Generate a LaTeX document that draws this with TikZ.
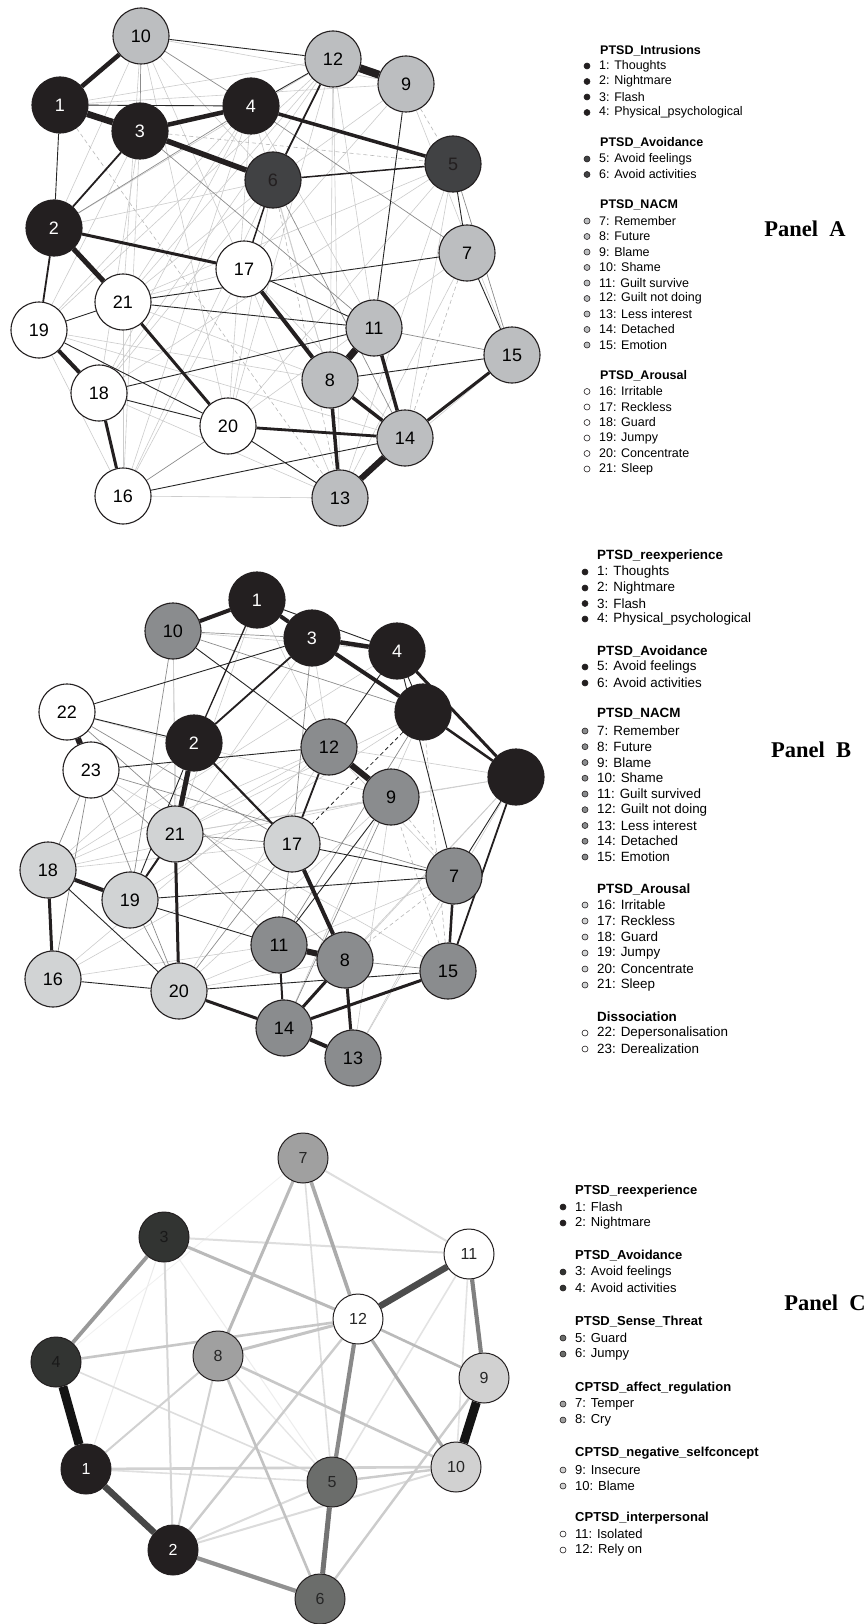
\documentclass[tikz,border=0pt]{standalone}
\usepackage{fontspec}
\setmainfont{Liberation Sans}
\newfontfamily\panelfont{Liberation Serif}
\pgfdeclarelayer{bg}
\pgfsetlayers{bg,main}
\definecolor{nblack}{HTML}{231F20}
\definecolor{ndark}{HTML}{414244}
\definecolor{nlgA}{HTML}{BCBEC0}
\definecolor{ngB}{HTML}{8A8C8E}
\definecolor{nlB}{HTML}{D1D3D4}
\definecolor{cdk}{HTML}{323432}
\definecolor{cmd}{HTML}{6B6D6B}
\definecolor{cgr}{HTML}{A0A0A0}
\definecolor{clt}{HTML}{D1D1D1}
\newcommand\edg[3]{\draw[#1] (#2) -- (#3);}
\newcommand\lgitem[6]{\node[bul, fill=#4] (#1b) at (#2-12,#3) {}; \node[lgtx, font=\fontsize{#6}{#6}\selectfont] (#1) at (#2,#3) {#5};}
\newcommand\lghead[5]{\node[lgtx, font=\fontsize{#5}{#5}\selectfont\bfseries] (#1) at (#2,#3) {#4};}
\begin{document}
\begin{tikzpicture}[x=1pt,y=-1pt,
  nd/.style={circle, draw=nblack, line width=1.1pt, minimum size=56pt, inner sep=0pt, font=\fontsize{18}{18}\selectfont},
  ndc/.style={circle, draw=nblack, line width=1pt, minimum size=50pt, inner sep=0pt, font=\fontsize{16}{16}\selectfont},
  lgtx/.style={anchor=west, inner sep=0pt},
  bul/.style={circle, draw=nblack, line width=0.6pt, minimum size=6pt, inner sep=0pt},
  pl/.style={font=\fontsize{22.5}{22.5}\selectfont\panelfont\bfseries, inner sep=0pt},
  eL/.style={draw=black!20, line width=0.6pt},
  eM/.style={draw=black!45, line width=0.7pt},
  eD/.style={draw=black!85, line width=0.9pt},
  eDL/.style={draw=black!28, dash pattern=on 4pt off 3pt, line width=0.6pt},
  eDD/.style={draw=black!85, dash pattern=on 4pt off 3pt, line width=0.8pt},
  eT/.style={draw=nblack, line width=#1},
  eC/.style 2 args={draw=#1, line width=#2}
]
\useasboundingbox (0,0) rectangle (867,1624);

% ---------------- Panel A nodes
\node[nd, fill=nblack, text=white] (a1) at (60,105) {1};
\node[nd, fill=nblack, text=white] (a2) at (54,228) {2};
\node[nd, fill=nblack, text=white] (a3) at (140,131) {3};
\node[nd, fill=nblack, text=white] (a4) at (251,106) {4};
\node[nd, fill=ndark, text=nblack] (a5) at (453,164) {5};
\node[nd, fill=ndark, text=nblack] (a6) at (273,180) {6};
\node[nd, fill=nlgA] (a7) at (467,253) {7};
\node[nd, fill=nlgA] (a8) at (330,380) {8};
\node[nd, fill=nlgA] (a9) at (406,84) {9};
\node[nd, fill=nlgA] (a10) at (141,36) {10};
\node[nd, fill=nlgA] (a11) at (374,328) {11};
\node[nd, fill=nlgA] (a12) at (333,59) {12};
\node[nd, fill=nlgA] (a13) at (340,498) {13};
\node[nd, fill=nlgA] (a14) at (405,438) {14};
\node[nd, fill=nlgA] (a15) at (512,355) {15};
\node[nd, fill=white] (a16) at (123,496) {16};
\node[nd, fill=white] (a17) at (244,269) {17};
\node[nd, fill=white] (a18) at (99,393) {18};
\node[nd, fill=white] (a19) at (39,330) {19};
\node[nd, fill=white] (a20) at (228,426) {20};
\node[nd, fill=white] (a21) at (123,302) {21};

% ---------------- Panel B nodes
\node[nd, fill=nblack, text=white] (b1) at (257,600) {1};
\node[nd, fill=nblack, text=white] (b2) at (194,743) {2};
\node[nd, fill=nblack, text=white] (b3) at (312,638) {3};
\node[nd, fill=nblack, text=white] (b4) at (397,651) {4};
\node[nd, fill=nblack] (b5) at (423,712) {};
\node[nd, fill=nblack] (b6) at (516,777) {};
\node[nd, fill=ngB] (b7) at (454,876) {7};
\node[nd, fill=ngB] (b8) at (345,960) {8};
\node[nd, fill=ngB] (b9) at (391,797) {9};
\node[nd, fill=ngB] (b10) at (173,631) {10};
\node[nd, fill=ngB] (b11) at (279,945) {11};
\node[nd, fill=ngB] (b12) at (329,747) {12};
\node[nd, fill=ngB] (b13) at (353,1058) {13};
\node[nd, fill=ngB] (b14) at (284,1028) {14};
\node[nd, fill=ngB] (b15) at (448,971) {15};
\node[nd, fill=nlB] (b16) at (53,979) {16};
\node[nd, fill=nlB] (b17) at (292,844) {17};
\node[nd, fill=nlB] (b18) at (48,870) {18};
\node[nd, fill=nlB] (b19) at (130,900) {19};
\node[nd, fill=nlB] (b20) at (179,991) {20};
\node[nd, fill=nlB] (b21) at (175,834) {21};
\node[nd, fill=white] (b22) at (67,712) {22};
\node[nd, fill=white] (b23) at (91,770) {23};

% ---------------- Panel C nodes
\node[ndc, fill=nblack, text=white] (c1) at (86,1469) {1};
\node[ndc, fill=nblack, text=white] (c2) at (173,1550) {2};
\node[ndc, fill=cdk, text=black!90] (c3) at (164,1237) {3};
\node[ndc, fill=cdk, text=black!90] (c4) at (56,1362) {4};
\node[ndc, fill=cmd, text=black!85] (c5) at (332,1482) {5};
\node[ndc, fill=cmd, text=black!85] (c6) at (320,1599) {6};
\node[ndc, fill=cgr, text=black!85] (c7) at (303,1158) {7};
\node[ndc, fill=cgr, text=black!85] (c8) at (218,1356) {8};
\node[ndc, fill=clt, text=black!85] (c9) at (484,1378) {9};
\node[ndc, fill=clt, text=black!85] (c10) at (456,1467) {10};
\node[ndc, fill=white, text=black!85] (c11) at (469,1254) {11};
\node[ndc, fill=white, text=black!85] (c12) at (358,1319) {12};

\begin{pgfonlayer}{bg}
\fill[white] (0,0) rectangle (867,1624);
% ---- Panel A light edges
\edg{eL}{a10}{a21}\edg{eL}{a10}{a6}\edg{eL}{a10}{a17}\edg{eL}{a10}{a9}\edg{eL}{a10}{a2}\edg{eL}{a10}{a20}
\edg{eL}{a1}{a12}\edg{eL}{a1}{a9}\edg{eL}{a2}{a6}\edg{eL}{a2}{a12}
\edg{eL}{a19}{a4}\edg{eL}{a19}{a12}\edg{eL}{a21}{a4}\edg{eL}{a21}{a12}\edg{eL}{a21}{a6}
\edg{eL}{a18}{a4}\edg{eL}{a18}{a12}\edg{eL}{a18}{a6}\edg{eL}{a16}{a4}\edg{eL}{a16}{a6}
\edg{eL}{a16}{a17}\edg{eL}{a16}{a3}\edg{eL}{a18}{a3}\edg{eL}{a19}{a3}
\edg{eL}{a20}{a6}\edg{eL}{a20}{a12}\edg{eL}{a20}{a4}
\edg{eL}{a9}{a15}\edg{eL}{a9}{a17}\edg{eL}{a9}{a6}\edg{eL}{a5}{a21}\edg{eL}{a5}{a18}
\edg{eL}{a5}{a20}\edg{eL}{a5}{a13}\edg{eL}{a5}{a14}\edg{eL}{a7}{a13}\edg{eL}{a7}{a20}
\edg{eL}{a15}{a13}\edg{eL}{a6}{a8}\edg{eL}{a4}{a8}\edg{eL}{a4}{a11}\edg{eL}{a12}{a8}
\edg{eL}{a12}{a13}\edg{eL}{a12}{a11}\edg{eL}{a17}{a14}\edg{eL}{a17}{a13}\edg{eL}{a18}{a13}
\edg{eL}{a19}{a14}\edg{eL}{a19}{a8}\edg{eL}{a21}{a8}\edg{eL}{a21}{a17}\edg{eL}{a21}{a16}
\edg{eL}{a19}{a16}\edg{eL}{a16}{a13}
\edg{eDL}{a1}{a13}\edg{eDL}{a3}{a5}\edg{eDL}{a9}{a5}\edg{eDL}{a7}{a14}\edg{eDL}{a6}{a13}\edg{eDL}{a6}{a17}
% ---- Panel A mid/dark edges
\edg{eM}{a10}{a4}\edg{eM}{a10}{a3}\edg{eM}{a4}{a7}\edg{eM}{a5}{a15}\edg{eM}{a11}{a15}
\edg{eM}{a16}{a20}\edg{eM}{a6}{a14}\edg{eM}{a2}{a4}\edg{eM}{a3}{a11}
\edg{eD}{a1}{a2}\edg{eD}{a1}{a4}\edg{eD}{a10}{a12}\edg{eD}{a12}{a4}\edg{eD}{a9}{a11}
\edg{eD}{a5}{a7}\edg{eD}{a7}{a15}\edg{eD}{a21}{a7}\edg{eD}{a17}{a11}\edg{eD}{a8}{a15}
\edg{eD}{a20}{a13}\edg{eD}{a16}{a14}\edg{eD}{a18}{a11}\edg{eD}{a19}{a20}\edg{eD}{a18}{a20}
\edg{eD}{a19}{a21}\edg{eD}{a21}{a11}
\edg{eT=4.5pt}{a1}{a10}\edg{eT=6.5pt}{a1}{a3}\edg{eT=4.5pt}{a3}{a4}\edg{eT=5.5pt}{a3}{a6}
\edg{eT=3.5pt}{a4}{a5}\edg{eT=8pt}{a12}{a9}\edg{eT=5pt}{a2}{a21}\edg{eT=3pt}{a2}{a17}
\edg{eT=1.8pt}{a2}{a3}\edg{eT=1.8pt}{a2}{a19}\edg{eT=1.8pt}{a12}{a6}\edg{eT=1.5pt}{a6}{a5}
\edg{eT=1.5pt}{a6}{a17}\edg{eT=4pt}{a17}{a8}\edg{eT=7pt}{a8}{a11}\edg{eT=3.5pt}{a11}{a14}
\edg{eT=3.5pt}{a8}{a14}\edg{eT=3.5pt}{a8}{a13}\edg{eT=6pt}{a13}{a14}\edg{eT=3pt}{a14}{a15}
\edg{eT=2.8pt}{a20}{a14}\edg{eT=3pt}{a21}{a20}\edg{eT=4pt}{a19}{a18}\edg{eT=3pt}{a18}{a16}

% ---- Panel B light edges
\edg{eL}{b10}{b21}\edg{eL}{b10}{b20}\edg{eL}{b10}{b4}\edg{eL}{b1}{b12}\edg{eL}{b1}{b21}
\edg{eL}{b18}{b3}\edg{eL}{b18}{b4}\edg{eL}{b18}{b12}\edg{eL}{b18}{b17}\edg{eL}{b18}{b9}
\edg{eL}{b16}{b17}\edg{eL}{b16}{b12}\edg{eL}{b16}{b11}\edg{eL}{b19}{b3}\edg{eL}{b19}{b5}
\edg{eL}{b21}{b5}\edg{eL}{b21}{b6}\edg{eL}{b21}{b9}\edg{eL}{b21}{b12}\edg{eL}{b20}{b12}
\edg{eL}{b20}{b8}\edg{eL}{b20}{b7}\edg{eL}{b20}{b9}\edg{eL}{b23}{b15}\edg{eL}{b22}{b9}
\edg{eL}{b13}{b6}\edg{eL}{b13}{b7}\edg{eL}{b13}{b9}\edg{eL}{b14}{b6}\edg{eL}{b14}{b5}
\edg{eL}{b8}{b6}\edg{eL}{b12}{b6}\edg{eL}{b12}{b7}\edg{eL}{b9}{b6}\edg{eL}{b3}{b12}
\edg{eDL}{b1}{b5}\edg{eDL}{b15}{b9}\edg{eDL}{b15}{b5}\edg{eDL}{b8}{b7}\edg{eDL}{b9}{b7}
% ---- Panel B mid/dark edges
\edg{eM}{b10}{b19}\edg{eM}{b10}{b5}\edg{eM}{b10}{b3}\edg{eM}{b18}{b23}\edg{eM}{b16}{b23}
\edg{eM}{b21}{b17}\edg{eM}{b20}{b17}\edg{eM}{b23}{b20}\edg{eM}{b23}{b11}\edg{eM}{b22}{b8}
\edg{eM}{b8}{b15}\edg{eM}{b11}{b5}\edg{eM}{b17}{b11}\edg{eM}{b9}{b14}\edg{eM}{b3}{b17}
\edg{eM}{b22}{b17}\edg{eM}{b23}{b7}\edg{eM}{b19}{b20}
\edg{eD}{b1}{b4}\edg{eD}{b4}{b5}\edg{eD}{b2}{b19}\edg{eD}{b2}{b22}\edg{eD}{b22}{b3}
\edg{eD}{b10}{b12}\edg{eD}{b6}{b7}\edg{eD}{b16}{b20}\edg{eD}{b18}{b20}\edg{eD}{b19}{b11}
\edg{eD}{b19}{b7}\edg{eD}{b20}{b15}\edg{eD}{b17}{b7}\edg{eD}{b9}{b11}\edg{eD}{b12}{b4}
\edg{eD}{b4}{b7}\edg{eD}{b23}{b12}
\edg{eDD}{b5}{b17}
\edg{eT=4pt}{b1}{b10}\edg{eT=4pt}{b1}{b3}\edg{eT=4.5pt}{b3}{b4}\edg{eT=4pt}{b3}{b5}
\edg{eT=3pt}{b4}{b6}\edg{eT=2.5pt}{b5}{b6}\edg{eT=6pt}{b12}{b9}\edg{eT=6pt}{b22}{b23}
\edg{eT=5pt}{b2}{b21}\edg{eT=3pt}{b21}{b20}\edg{eT=1.3pt}{b2}{b1}\edg{eT=1.8pt}{b2}{b3}
\edg{eT=2.2pt}{b2}{b17}\edg{eT=4pt}{b17}{b8}\edg{eT=6pt}{b11}{b8}\edg{eT=3pt}{b8}{b14}
\edg{eT=2pt}{b11}{b14}\edg{eT=3pt}{b8}{b13}\edg{eT=4pt}{b13}{b14}\edg{eT=3pt}{b14}{b15}
\edg{eT=3pt}{b20}{b14}\edg{eT=2.5pt}{b7}{b15}\edg{eT=1.8pt}{b6}{b15}\edg{eT=4pt}{b18}{b19}
\edg{eT=3pt}{b18}{b16}\edg{eT=2pt}{b19}{b21}\edg{eT=1.8pt}{b12}{b17}

% ---- Panel C edges
\edg{eC={black!6}{0.8pt}}{c7}{c4}
\edg{eC={black!8}{1pt}}{c3}{c1}\edg{eC={black!7}{1pt}}{c3}{c5}
\edg{eC={black!10}{1.3pt}}{c8}{c5}
\edg{eC={black!11}{1.6pt}}{c5}{c11}\edg{eC={black!11}{1.6pt}}{c10}{c11}
\edg{eC={black!12}{1.6pt}}{c1}{c5}\edg{eC={black!13}{1.6pt}}{c4}{c5}\edg{eC={black!13}{1.6pt}}{c7}{c5}
\edg{eC={black!13}{2pt}}{c3}{c11}\edg{eC={black!13}{2pt}}{c7}{c11}
\edg{eC={black!16}{2pt}}{c3}{c2}\edg{eC={black!14}{2pt}}{c2}{c5}\edg{eC={black!14}{2pt}}{c2}{c10}
\edg{eC={black!18}{2pt}}{c8}{c2}\edg{eC={black!18}{2pt}}{c8}{c1}
\edg{eC={black!18}{2.6pt}}{c1}{c10}\edg{eC={black!20}{2.4pt}}{c2}{c12}
\edg{eC={black!20}{2.4pt}}{c5}{c10}\edg{eC={black!20}{2.4pt}}{c6}{c9}
\edg{eC={black!22}{2.6pt}}{c4}{c12}\edg{eC={black!22}{2.6pt}}{c8}{c10}\edg{eC={black!24}{2.6pt}}{c8}{c6}
\edg{eC={black!23}{3pt}}{c8}{c12}
\edg{eC={black!27}{2.6pt}}{c12}{c9}\edg{eC={black!27}{3pt}}{c3}{c12}\edg{eC={black!27}{3pt}}{c7}{c8}
\edg{eC={black!33}{3.6pt}}{c7}{c12}\edg{eC={black!33}{3.2pt}}{c12}{c10}
\edg{eC={black!40}{3.8pt}}{c3}{c4}\edg{eC={black!43}{4.2pt}}{c2}{c6}
\edg{eC={black!46}{4.2pt}}{c12}{c5}\edg{eC={black!50}{4.2pt}}{c11}{c9}
\edg{eC={black!55}{5pt}}{c5}{c6}
\edg{eC={black!72}{6.5pt}}{c1}{c2}\edg{eC={black!70}{6.5pt}}{c12}{c11}
\edg{eC={black!92}{9pt}}{c4}{c1}\edg{eC={black!92}{9pt}}{c9}{c10}
\end{pgfonlayer}

% ---------------- Legend A
\lghead{lA1}{600}{51}{PTSD\_Intrusions}{12.5}
\lgitem{lA1a}{599}{66}{nblack}{1: Thoughts}{12.5}
\lgitem{lA1b}{599}{81.5}{nblack}{2: Nightmare}{12.5}
\lgitem{lA1c}{599}{97}{nblack}{3: Flash}{12.5}
\lgitem{lA1d}{599}{112.5}{nblack}{4: Physical\_psychological}{12.5}
\lghead{lA2}{600}{143}{PTSD\_Avoidance}{12.5}
\lgitem{lA2a}{599}{159}{ndark}{5: Avoid feelings}{12.5}
\lgitem{lA2b}{599}{174.5}{ndark}{6: Avoid activities}{12.5}
\lghead{lA3}{600}{205}{PTSD\_NACM}{12.5}
\lgitem{lA3a}{599}{221}{nlgA}{7: Remember}{12.5}
\lgitem{lA3b}{599}{236.5}{nlgA}{8: Future}{12.5}
\lgitem{lA3c}{599}{252}{nlgA}{9: Blame}{12.5}
\lgitem{lA3d}{599}{267.5}{nlgA}{10: Shame}{12.5}
\lgitem{lA3e}{599}{283}{nlgA}{11: Guilt survive}{12.5}
\lgitem{lA3f}{599}{298.5}{nlgA}{12: Guilt not doing}{12.5}
\lgitem{lA3g}{599}{314}{nlgA}{13: Less interest}{12.5}
\lgitem{lA3h}{599}{329.5}{nlgA}{14: Detached}{12.5}
\lgitem{lA3i}{599}{345}{nlgA}{15: Emotion}{12.5}
\lghead{lA4}{600}{376}{PTSD\_Arousal}{12.5}
\lgitem{lA4a}{599}{391.5}{white}{16: Irritable}{12.5}
\lgitem{lA4b}{599}{407}{white}{17: Reckless}{12.5}
\lgitem{lA4c}{599}{422.5}{white}{18: Guard}{12.5}
\lgitem{lA4d}{599}{438}{white}{19: Jumpy}{12.5}
\lgitem{lA4e}{599}{453.5}{white}{20: Concentrate}{12.5}
\lgitem{lA4f}{599}{469}{white}{21: Sleep}{12.5}
\node[pl] (pA) at (805,229) {Panel\hspace{0.5em}A};

% ---------------- Legend B
\lghead{lB1}{597}{556}{PTSD\_reexperience}{13.4}
\lgitem{lB1a}{597}{572}{nblack}{1: Thoughts}{13.4}
\lgitem{lB1b}{597}{588}{nblack}{2: Nightmare}{13.4}
\lgitem{lB1c}{597}{603.5}{nblack}{3: Flash}{13.4}
\lgitem{lB1d}{597}{619}{nblack}{4: Physical\_psychological}{13.4}
\lghead{lB2}{597}{651}{PTSD\_Avoidance}{13.4}
\lgitem{lB2a}{597}{667}{nblack}{5: Avoid feelings}{13.4}
\lgitem{lB2b}{597}{683}{nblack}{6: Avoid activities}{13.4}
\lghead{lB3}{597}{714}{PTSD\_NACM}{13.4}
\lgitem{lB3a}{597}{731}{ngB}{7: Remember}{13.4}
\lgitem{lB3b}{597}{746.7}{ngB}{8: Future}{13.4}
\lgitem{lB3c}{597}{762.5}{ngB}{9: Blame}{13.4}
\lgitem{lB3d}{597}{778.2}{ngB}{10: Shame}{13.4}
\lgitem{lB3e}{597}{794}{ngB}{11: Guilt survived}{13.4}
\lgitem{lB3f}{597}{809.7}{ngB}{12: Guilt not doing}{13.4}
\lgitem{lB3g}{597}{825.5}{ngB}{13: Less interest}{13.4}
\lgitem{lB3h}{597}{841.2}{ngB}{14: Detached}{13.4}
\lgitem{lB3i}{597}{857}{ngB}{15: Emotion}{13.4}
\lghead{lB4}{597}{889}{PTSD\_Arousal}{13.4}
\lgitem{lB4a}{597}{905}{nlB}{16: Irritable}{13.4}
\lgitem{lB4b}{597}{921}{nlB}{17: Reckless}{13.4}
\lgitem{lB4c}{597}{937}{nlB}{18: Guard}{13.4}
\lgitem{lB4d}{597}{953}{nlB}{19: Jumpy}{13.4}
\lgitem{lB4e}{597}{969}{nlB}{20: Concentrate}{13.4}
\lgitem{lB4f}{597}{985}{nlB}{21: Sleep}{13.4}
\lghead{lB5}{597}{1017}{Dissociation}{13.4}
\lgitem{lB5a}{597}{1033}{white}{22: Depersonalisation}{13.4}
\lgitem{lB5b}{597}{1049}{white}{23: Derealization}{13.4}
\node[pl] (pB) at (811,750) {Panel\hspace{0.5em}B};

% ---------------- Legend C
\lghead{lC1}{575}{1191}{PTSD\_reexperience}{13}
\lgitem{lC1a}{575}{1207}{nblack}{1: Flash}{13}
\lgitem{lC1b}{575}{1223}{nblack}{2: Nightmare}{13}
\lghead{lC2}{575}{1256}{PTSD\_Avoidance}{13}
\lgitem{lC2a}{575}{1272}{cdk}{3: Avoid feelings}{13}
\lgitem{lC2b}{575}{1288}{cdk}{4: Avoid activities}{13}
\lghead{lC3}{575}{1322}{PTSD\_Sense\_Threat}{13}
\lgitem{lC3a}{575}{1338}{cmd}{5: Guard}{13}
\lgitem{lC3b}{575}{1354}{cmd}{6: Jumpy}{13}
\lghead{lC4}{575}{1388}{CPTSD\_affect\_regulation}{13}
\lgitem{lC4a}{575}{1404}{cgr}{7: Temper}{13}
\lgitem{lC4b}{575}{1420}{cgr}{8: Cry}{13}
\lghead{lC5}{575}{1453}{CPTSD\_negative\_selfconcept}{13}
\lgitem{lC5a}{575}{1470}{clt}{9: Insecure}{13}
\lgitem{lC5b}{575}{1486}{clt}{10: Blame}{13}
\lghead{lC6}{575}{1518}{CPTSD\_interpersonal}{13}
\lgitem{lC6a}{575}{1534}{white}{11: Isolated}{13}
\lgitem{lC6b}{575}{1550}{white}{12: Rely on}{13}
\node[pl] (pC) at (825,1303) {Panel\hspace{0.5em}C};
\end{tikzpicture}
\end{document}
